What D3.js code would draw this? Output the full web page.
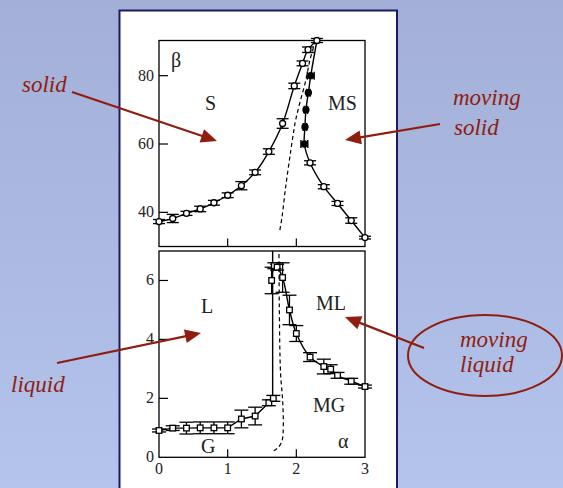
<!DOCTYPE html>
<html>
<head>
<meta charset="utf-8">
<script src="https://cdn.jsdelivr.net/npm/d3@7"></script>
<style>
  body { margin: 0; }
  svg { display: block; }
  .tick-label { font-family: "Liberation Serif", "Times New Roman", serif; font-size: 16px; fill: #222; }
  .region { font-family: "Liberation Serif", "Times New Roman", serif; font-size: 20px; fill: #222; }
  .note { font-family: "Liberation Serif", "Times New Roman", serif; font-style: italic; font-size: 23px; fill: #8f1d10; }
</style>
</head>
<body>
<div id="chart"></div>
<script>
// Top panel (alpha, beta): solid boundary, open circles with beta error bars
var solidAlpha = [0, 0.2, 0.4, 0.6, 0.8, 1.0, 1.2, 1.4, 1.6, 1.8, 1.97, 2.09, 2.17, 2.3];
var solidBeta  = [37.3, 38.2, 39.7, 41.0, 42.8, 45.0, 47.8, 51.7, 57.8, 66.0, 77.0, 83.6, 87.6, 90.3];
var solidErr   = [0.6, 1.2, 0.6, 0.8, 0.7, 0.7, 1.2, 0.7, 0.8, 1.4, 0.8, 0.7, 0.8, 0.6];

// moving solid boundary: filled circles swept in beta (alpha error bars)
var msBeta  = [80, 75, 70, 65, 60];
var msAlpha = [2.21, 2.175, 2.14, 2.126, 2.117];
var msErr   = [0.05, 0.025, 0.025, 0.025, 0.05];

// moving solid boundary: open circles swept in alpha
var msLowAlpha = [2.2, 2.4, 2.6, 2.8, 3.0];
var msLowBeta  = [54.5, 47.5, 42.6, 37.6, 32.6];
var msLowErr   = [0.6, 0.6, 0.6, 0.8, 0.4];

// dashed line, top panel
var dashTopAlpha = [1.76, 1.79, 1.845, 1.90, 1.93, 1.96, 1.99, 2.05, 2.13, 2.20, 2.28];
var dashTopBeta  = [34.8, 38.4, 47.5, 55.4, 59.5, 63.5, 67, 72, 78, 84.7, 90.3];

// Bottom panel (alpha, density): gas / liquid
var gAlpha = [0, 0.2, 0.4, 0.6, 0.8, 1.0, 1.2, 1.4, 1.6, 1.665];
var gVal   = [0.91, 0.99, 0.99, 1.0, 1.0, 1.0, 1.3, 1.4, 1.85, 2.0];
var gErr   = [0.05, 0.08, 0.2, 0.2, 0.2, 0.2, 0.3, 0.3, 0.1, 0.1];

var mlAlpha = [1.64, 1.68, 1.72, 1.8, 1.9, 2.0, 2.2, 2.4, 2.5, 2.6, 2.8, 3.0];
var mlVal   = [6.0, 6.5, 6.45, 6.1, 5.0, 4.2, 3.4, 3.08, 2.99, 2.78, 2.58, 2.4];
var mlErr   = [0.45, 0.1, 0.1, 0.5, 0.5, 0.27, 0.15, 0.25, 0.15, 0.1, 0.1, 0.05];

var jumpAlpha = 1.655; // vertical line from gas branch to top

var dashBotAlpha = [1.67, 1.74, 1.795, 1.81, 1.80, 1.77, 1.752, 1.747];
var dashBotVal   = [0.22, 0.34, 0.59, 1.04, 1.95, 2.86, 5.12, 7.0];

var xTicks = [0, 1, 2, 3];
var yTopTicks = [40, 60, 80];
var yBotTicks = [0, 2, 4, 6];

var W = 563, H = 488;
var svg = d3.select("#chart").append("svg").attr("width", W).attr("height", H);

// background gradient
var grad = svg.append("defs").append("linearGradient")
    .attr("id", "bg").attr("x1", 0).attr("y1", 0).attr("x2", 0).attr("y2", 1);
grad.append("stop").attr("offset", "0%").attr("stop-color", "#a3afd7");
grad.append("stop").attr("offset", "100%").attr("stop-color", "#b4c4ec");
svg.append("rect").attr("width", W).attr("height", H).attr("fill", "url(#bg)");

// white sheet
svg.append("rect").attr("x", 119.5).attr("y", 10.5).attr("width", 277.5).attr("height", H)
    .attr("fill", "#fff").attr("stroke", "#1c1c5c").attr("stroke-width", 2);

// scales
var x = d3.scaleLinear().domain([0, 3]).range([159, 365]);
var yTop = d3.scaleLinear().domain([30, 90.3]).range([246.5, 40.5]);
var yBot = d3.scaleLinear().domain([0, 7]).range([457.3, 251]);

function frame(y) {
    var g = svg.append("g");
    g.append("rect")
        .attr("x", x(0)).attr("y", y.range()[1])
        .attr("width", x(3) - x(0)).attr("height", y.range()[0] - y.range()[1])
        .attr("fill", "none").attr("stroke", "#000").attr("stroke-width", 1.3);
    // x ticks, pointing up from the bottom
    g.selectAll(".xt").data([1, 2]).enter().append("line")
        .attr("x1", x).attr("x2", x)
        .attr("y1", y.range()[0]).attr("y2", y.range()[0] - 8)
        .attr("stroke", "#000").attr("stroke-width", 1.2);
    return g;
}

var gTop = frame(yTop);
var gBot = frame(yBot);

// y ticks (inward) and labels
gTop.selectAll(".yt").data(yTopTicks).enter().append("line")
    .attr("x1", x(0)).attr("x2", x(0) + 9)
    .attr("y1", yTop).attr("y2", yTop)
    .attr("stroke", "#000").attr("stroke-width", 1.2);
gTop.selectAll(".yl").data(yTopTicks).enter().append("text")
    .attr("class", "tick-label").attr("text-anchor", "end")
    .attr("x", x(0) - 5).attr("y", function(d) { return yTop(d) + 5; })
    .text(function(d) { return d; });

gBot.selectAll(".yt").data(yBotTicks.filter(function(d) { return d > 0; })).enter().append("line")
    .attr("x1", x(0)).attr("x2", x(0) + 9)
    .attr("y1", yBot).attr("y2", yBot)
    .attr("stroke", "#000").attr("stroke-width", 1.2);
gBot.selectAll(".yl").data(yBotTicks).enter().append("text")
    .attr("class", "tick-label").attr("text-anchor", "end")
    .attr("x", x(0) - 5).attr("y", function(d) { return yBot(d) + 5; })
    .text(function(d) { return d; });
gBot.selectAll(".xl").data(xTicks).enter().append("text")
    .attr("class", "tick-label").attr("text-anchor", "middle")
    .attr("x", x).attr("y", 474)
    .text(function(d) { return d; });

function pts(xs, ys) { return xs.map(function(d, i) { return [d, ys[i]]; }); }

function curve(g, data, y, smooth, dash) {
    var line = d3.line()
        .x(function(d) { return x(d[0]); })
        .y(function(d) { return y(d[1]); })
        .curve(smooth ? d3.curveCatmullRom.alpha(0.5) : d3.curveLinear);
    g.append("path").datum(data).attr("d", line)
        .attr("fill", "none").attr("stroke", "#000")
        .attr("stroke-width", dash ? 1.2 : 1.4)
        .attr("stroke-dasharray", dash ? "4,3" : null);
}

// vertical error bars (value error)
function vErr(g, xs, ys, es, y, cap) {
    var d = xs.map(function(a, i) { return {a: a, v: ys[i], e: es[i]}; });
    var e = g.append("g").attr("stroke", "#000").attr("stroke-width", 1.3);
    d.forEach(function(p) {
        var cx = x(p.a), t = y(p.v + p.e), b = y(p.v - p.e);
        e.append("line").attr("x1", cx).attr("x2", cx).attr("y1", t).attr("y2", b);
        e.append("line").attr("x1", cx - cap).attr("x2", cx + cap).attr("y1", t).attr("y2", t);
        e.append("line").attr("x1", cx - cap).attr("x2", cx + cap).attr("y1", b).attr("y2", b);
    });
}

// horizontal error bars (alpha error)
function hErr(g, xs, ys, es, y, cap) {
    var e = g.append("g").attr("stroke", "#000").attr("stroke-width", 1.4);
    xs.forEach(function(a, i) {
        var cy = y(ys[i]), l = x(a - es[i]), r = x(a + es[i]);
        e.append("line").attr("x1", l).attr("x2", r).attr("y1", cy).attr("y2", cy);
        e.append("line").attr("x1", l).attr("x2", l).attr("y1", cy - cap).attr("y2", cy + cap);
        e.append("line").attr("x1", r).attr("x2", r).attr("y1", cy - cap).attr("y2", cy + cap);
    });
}

function circles(g, xs, ys, y, filled) {
    g.selectAll(null).data(pts(xs, ys)).enter().append("circle")
        .attr("cx", function(d) { return x(d[0]); })
        .attr("cy", function(d) { return y(d[1]); })
        .attr("r", 3)
        .attr("fill", filled ? "#000" : "#fff")
        .attr("stroke", "#000").attr("stroke-width", 1.3);
}

function squares(g, xs, ys, y) {
    g.selectAll(null).data(pts(xs, ys)).enter().append("rect")
        .attr("x", function(d) { return x(d[0]) - 2.8; })
        .attr("y", function(d) { return y(d[1]) - 2.8; })
        .attr("width", 5.6).attr("height", 5.6)
        .attr("fill", "#fff").attr("stroke", "#000").attr("stroke-width", 1.3);
}

// ---- top panel ----
curve(gTop, pts(solidAlpha, solidBeta), yTop, true, false);
var rightBranch = [[2.3, 90.3]].concat(pts(msAlpha, msBeta), pts(msLowAlpha, msLowBeta));
curve(gTop, rightBranch, yTop, true, false);
curve(gTop, pts(dashTopAlpha, dashTopBeta), yTop, true, true);
vErr(gTop, solidAlpha, solidBeta, solidErr, yTop, 6);
vErr(gTop, msLowAlpha, msLowBeta, msLowErr, yTop, 6);
hErr(gTop, msAlpha, msBeta, msErr, yTop, 4);
circles(gTop, solidAlpha, solidBeta, yTop, false);
circles(gTop, msAlpha, msBeta, yTop, true);
circles(gTop, msLowAlpha, msLowBeta, yTop, false);

// ---- bottom panel ----
curve(gBot, pts(gAlpha, gVal), yBot, false, false);
gBot.append("line")
    .attr("x1", x(jumpAlpha)).attr("x2", x(jumpAlpha))
    .attr("y1", yBot(2.0)).attr("y2", yBot(7))
    .attr("stroke", "#000").attr("stroke-width", 1.4);
curve(gBot, pts(mlAlpha, mlVal), yBot, true, false);
vErr(gBot, gAlpha, gVal, gErr, yBot, 7);
vErr(gBot, mlAlpha, mlVal, mlErr, yBot, 7);
squares(gBot, gAlpha, gVal, yBot);
squares(gBot, mlAlpha, mlVal, yBot);
curve(gBot, pts(dashBotAlpha, dashBotVal), yBot, true, true);

// ---- labels inside the panels ----
var regions = [
    {t: "\u03b2", x: 171, y: 67},
    {t: "S", x: 205, y: 110},
    {t: "MS", x: 328, y: 110},
    {t: "L", x: 201, y: 313},
    {t: "ML", x: 316, y: 310},
    {t: "MG", x: 313, y: 412},
    {t: "G", x: 201, y: 453},
    {t: "\u03b1", x: 338, y: 448}
];
svg.selectAll(".region").data(regions).enter().append("text")
    .attr("class", "region")
    .attr("x", function(d) { return d.x; }).attr("y", function(d) { return d.y; })
    .text(function(d) { return d.t; });

// ---- annotations ----
var notes = [
    {t: "solid", x: 22, y: 92},
    {t: "moving", x: 453, y: 105},
    {t: "solid", x: 454, y: 135},
    {t: "liquid", x: 11, y: 392},
    {t: "moving", x: 460, y: 347},
    {t: "liquid", x: 460, y: 372}
];
svg.selectAll(".note").data(notes).enter().append("text")
    .attr("class", "note")
    .attr("x", function(d) { return d.x; }).attr("y", function(d) { return d.y; })
    .text(function(d) { return d.t; });

var arrows = [
    [[72, 92], [217, 141]],
    [[440, 124], [345, 140]],
    [[57, 363], [201, 333]],
    [[424, 348], [345, 317]]
];
var red = "#8f1d10";
arrows.forEach(function(a) {
    var s = a[0], e = a[1];
    var dx = e[0] - s[0], dy = e[1] - s[1], len = Math.sqrt(dx * dx + dy * dy);
    var ux = dx / len, uy = dy / len, hl = 16, hw = 7;
    var bx = e[0] - ux * hl, by = e[1] - uy * hl;
    svg.append("line").attr("x1", s[0]).attr("y1", s[1]).attr("x2", bx + ux * 2).attr("y2", by + uy * 2)
        .attr("stroke", red).attr("stroke-width", 2.2);
    svg.append("path")
        .attr("d", "M" + e[0] + "," + e[1] +
            "L" + (bx - uy * hw) + "," + (by + ux * hw) +
            "L" + (bx + uy * hw) + "," + (by - ux * hw) + "Z")
        .attr("fill", red);
});

svg.append("ellipse").attr("cx", 485).attr("cy", 355.5).attr("rx", 77).attr("ry", 40.5)
    .attr("fill", "none").attr("stroke", red).attr("stroke-width", 2);
</script>
</body>
</html>
